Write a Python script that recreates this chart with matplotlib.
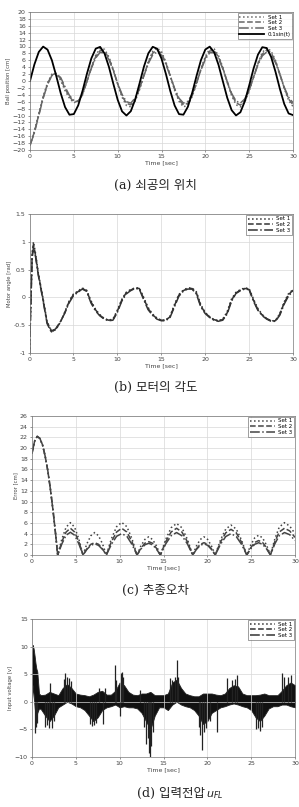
import numpy as np
import matplotlib
matplotlib.use("Agg")
import matplotlib.pyplot as plt

# ---- (a) ball position ----
t_a = np.arange(0, 30.01, 0.5)
ref_a = [0.0, 4.79, 8.41, 9.97, 9.09, 5.98, 1.41, -3.51, -7.57, -9.78, -9.59, -7.06, -2.79,
         2.15, 6.57, 9.38, 9.89, 7.98, 4.12, -0.75, -5.44, -8.80, -10.0, -8.75, -5.37,
         -0.66, 4.20, 8.03, 9.91, 9.35, 6.50, 2.07, -2.88, -7.12, -9.61, -9.76, -7.51,
         -3.43, 1.50, 6.05, 9.13, 9.96, 8.37, 4.71, -0.09, -4.87, -8.46, -9.98, -9.06,
         -5.91, -1.32, 3.60, 7.63, 9.80, 9.56, 7.00, 2.71, -2.24, -6.64, -9.41, -9.88]
set1_a = [-18.5, -14.5, -9.5, -4.5, -0.5, 2.0, 2.2, 0.2, -2.8, -5.0, -6.3, -5.8, -3.5,
          -0.1, 4.1, 7.5, 9.4, 9.2, 7.0, 3.3, -0.9, -4.7, -7.1, -7.5, -5.8,
          -2.5, 1.7, 5.7, 8.6, 9.6, 8.5, 5.5, 1.5, -2.7, -5.9, -7.5, -7.0,
          -4.5, -0.7, 3.5, 7.1, 9.3, 9.3, 7.4, 3.9, -0.4, -4.2, -6.9, -7.5,
          -6.1, -3.0, 1.2, 5.2, 8.3, 9.6, 8.7, 6.0, 2.1, -2.2, -5.6, -7.4]
set2_a = [-18.6, -14.8, -9.8, -4.8, -0.8, 1.8, 2.2, 0.6, -2.2, -4.6, -6.0, -5.9, -3.7,
          -0.1, 3.9, 7.1, 8.8, 8.7, 6.6, 3.2, -0.8, -4.3, -6.5, -6.9, -5.3,
          -2.2, 1.7, 5.4, 8.1, 9.0, 8.0, 5.2, 1.5, -2.4, -5.5, -6.9, -6.5,
          -4.2, -0.6, 3.4, 6.7, 8.7, 8.8, 7.0, 3.7, -0.3, -3.9, -6.3, -7.0,
          -5.7, -2.7, 1.1, 5.0, 7.8, 9.0, 8.2, 5.7, 2.0, -2.0, -5.2, -6.9]
set3_a = [-18.7, -15.0, -10.0, -5.0, -1.0, 1.6, 2.1, 1.0, -1.7, -4.2, -5.6, -5.8, -4.0,
          0.0, 3.7, 6.7, 8.3, 8.1, 6.2, 3.0, -0.7, -3.9, -6.0, -6.4, -4.9,
          -2.0, 1.6, 5.1, 7.6, 8.4, 7.5, 4.9, 1.4, -2.2, -5.0, -6.4, -5.9,
          -3.8, -0.5, 3.2, 6.3, 8.2, 8.2, 6.5, 3.5, -0.2, -3.6, -5.8, -6.4,
          -5.2, -2.5, 1.1, 4.7, 7.3, 8.4, 7.7, 5.3, 1.9, -1.8, -4.7, -6.3]

# ---- (b) motor angle ----
t_b = [0, 0.15, 0.3, 0.45, 0.7, 1.0, 1.5, 2.0, 2.5, 3.0, 3.5, 4.0, 4.5, 5.0, 5.5, 6.0,
       6.5, 7.0, 7.5, 8.0, 8.5, 9.0, 9.5, 10.0, 10.5, 11.0, 11.5, 12.0, 12.5, 13.0, 13.5,
       14.0, 14.5, 15.0, 15.5, 16.0, 16.5, 17.0, 17.5, 18.0, 18.5, 19.0, 19.5, 20.0, 20.5,
       21.0, 21.5, 22.0, 22.5, 23.0, 23.5, 24.0, 24.5, 25.0, 25.5, 26.0, 26.5, 27.0, 27.5,
       28.0, 28.5, 29.0, 29.5, 30.0]
set1_b = [-1.0, -0.05, 0.8, 1.0, 0.78, 0.44, 0.02, -0.43, -0.62, -0.58, -0.45, -0.27,
          -0.07, 0.06, 0.11, 0.17, 0.13, -0.06, -0.21, -0.31, -0.38, -0.41, -0.39, -0.23,
          -0.04, 0.09, 0.14, 0.17, 0.17, 0.0, -0.18, -0.3, -0.37, -0.41, -0.41, -0.34,
          -0.13, 0.05, 0.13, 0.17, 0.17, 0.1, -0.13, -0.27, -0.35, -0.4, -0.42, -0.39,
          -0.26, -0.03, 0.09, 0.14, 0.17, 0.16, -0.03, -0.2, -0.31, -0.38, -0.42, -0.42,
          -0.29, -0.08, 0.07, 0.14]
set2_b = [-1.0, -0.1, 0.75, 0.95, 0.75, 0.42, 0.0, -0.45, -0.6, -0.57, -0.45, -0.28,
          -0.08, 0.05, 0.1, 0.16, 0.12, -0.08, -0.22, -0.32, -0.38, -0.41, -0.4, -0.25,
          -0.05, 0.08, 0.13, 0.17, 0.16, -0.02, -0.2, -0.31, -0.38, -0.41, -0.41, -0.35,
          -0.15, 0.04, 0.12, 0.16, 0.16, 0.08, -0.15, -0.28, -0.35, -0.4, -0.42, -0.4,
          -0.28, -0.05, 0.08, 0.13, 0.16, 0.15, -0.05, -0.22, -0.32, -0.38, -0.42, -0.42,
          -0.3, -0.1, 0.05, 0.13]
set3_b = [-1.0, -0.15, 0.7, 0.9, 0.72, 0.4, -0.02, -0.47, -0.63, -0.56, -0.44, -0.29,
          -0.1, 0.03, 0.09, 0.15, 0.11, -0.1, -0.24, -0.33, -0.39, -0.42, -0.41, -0.27,
          -0.07, 0.06, 0.12, 0.16, 0.15, -0.04, -0.22, -0.32, -0.39, -0.42, -0.42, -0.36,
          -0.17, 0.02, 0.11, 0.15, 0.15, 0.06, -0.17, -0.29, -0.36, -0.41, -0.43, -0.41,
          -0.3, -0.07, 0.07, 0.12, 0.15, 0.14, -0.07, -0.23, -0.33, -0.39, -0.43, -0.43,
          -0.32, -0.12, 0.03, 0.11]

# ---- (c) tracking error ----
t_c = [0, 0.3, 0.6, 0.9, 1.2, 1.5, 1.8, 2.1, 2.4, 2.7,
       2.93, 3.41, 3.89, 4.38, 4.86, 5.34,
       5.82, 6.26, 6.71, 7.15, 7.59, 8.04,
       8.48, 9.06, 9.65, 10.23, 10.82, 11.40,
       11.98, 12.42, 12.87, 13.31, 13.75, 14.20,
       14.64, 15.26, 15.87, 16.49, 17.10, 17.72,
       18.33, 18.76, 19.19, 19.62, 20.04, 20.47,
       20.9, 21.5, 22.1, 22.7, 23.3, 23.9,
       24.5, 24.95, 25.4, 25.85, 26.3, 26.75,
       27.2, 27.7, 28.2, 28.8, 29.4, 30.0]
head_c = [19.0, 21.3, 22.2, 21.8, 20.6, 18.5, 15.8, 12.3, 8.3, 3.8]
set1_c = head_c + [0, 3.0, 5.2, 6.05, 5.2, 3.0,
                   0, 2.1, 3.6, 4.2, 3.6, 2.1,
                   0, 3.05, 5.3, 6.1, 5.3, 3.05,
                   0, 1.7, 2.9, 3.4, 2.9, 1.7,
                   0, 2.95, 5.1, 5.9, 5.1, 2.95,
                   0, 1.7, 2.9, 3.4, 2.9, 1.7,
                   0, 2.8, 4.85, 5.6, 4.85, 2.8,
                   0, 1.85, 3.2, 3.7, 3.2, 1.85,
                   0, 3.0, 5.2, 6.05, 5.4, 4.0]
set2_c = head_c + [0, 2.5, 4.3, 5.0, 4.3, 2.5,
                   0, 1.15, 2.0, 2.3, 2.0, 1.15,
                   0, 2.5, 4.3, 5.0, 4.3, 2.5,
                   0, 1.25, 2.2, 2.5, 2.2, 1.25,
                   0, 2.5, 4.3, 5.0, 4.3, 2.5,
                   0, 1.15, 2.0, 2.3, 2.0, 1.15,
                   0, 2.4, 4.15, 4.8, 4.15, 2.4,
                   0, 1.35, 2.35, 2.7, 2.35, 1.35,
                   0, 2.5, 4.3, 5.0, 4.5, 3.3]
set3_c = head_c + [0, 2.1, 3.7, 4.25, 3.7, 2.1,
                   0, 1.05, 1.8, 2.1, 1.8, 1.05,
                   0, 2.0, 3.5, 4.0, 3.5, 2.0,
                   0, 1.1, 1.9, 2.2, 1.9, 1.1,
                   0, 2.1, 3.6, 4.2, 3.6, 2.1,
                   0, 1.05, 1.8, 2.1, 1.8, 1.05,
                   0, 2.0, 3.45, 4.0, 3.45, 2.0,
                   0, 1.15, 2.0, 2.3, 2.0, 1.15,
                   0, 2.1, 3.6, 4.2, 3.8, 2.7]

# ---- (d) input voltage (dense band + spikes) ----
t_d = [0, 0.1, 0.2, 0.3, 0.4, 0.5, 0.6, 0.8, 1.0, 1.5, 2.0, 2.5, 3.0, 3.5, 4.0, 4.5,
       5.0, 5.5, 6.0, 6.5, 7.0, 7.5, 8.0, 8.5, 9.0, 9.5, 10.0, 10.5, 11.0, 11.5, 12.0,
       12.5, 13.0, 13.5, 14.0, 14.5, 15.0, 15.5, 16.0, 16.5, 17.0, 17.5, 18.0, 18.5,
       19.0, 19.5, 20.0, 20.5, 21.0, 21.5, 22.0, 22.5, 23.0, 23.5, 24.0, 24.5, 25.0,
       25.5, 26.0, 26.5, 27.0, 27.5, 28.0, 28.5, 29.0, 29.5, 30.0]
hi_d = [9.0, 10.3, 9.5, 8.3, 7.0, 6.0, 5.5, 1.5, 1.2, 1.3, 1.8, 1.5, 1.2, 2.5, 3.2, 2.5,
        1.5, 1.3, 1.2, 1.0, 1.3, 1.8, 2.0, 1.3, 1.3, 2.0, 3.5, 3.0, 1.8, 1.3, 1.2,
        1.5, 1.5, 1.8, 1.2, 1.2, 1.2, 1.5, 3.5, 4.0, 2.5, 1.5, 1.2, 1.0,
        1.0, 1.5, 1.5, 1.5, 1.3, 1.2, 1.5, 2.5, 3.0, 2.8, 1.5, 1.2, 1.2,
        1.2, 1.3, 1.5, 1.2, 1.2, 1.2, 2.0, 3.0, 3.5, 3.0]
lo_d = [0.0, 3.0, 1.0, -1.0, -2.5, -3.0, -2.0, -1.2, -1.3, -2.5, -3.5, -2.5, -1.0, -0.5,
        0.0, -0.3, -0.8, -1.0, -1.5, -2.5, -3.5, -2.8, -1.5, -1.0, -0.8, -0.5, -1.0,
        -0.8, -1.0, -1.0, -1.2, -2.0, -3.5, -5.0, -2.5, -1.0, -1.0, -1.5, -0.5, 0.0,
        -0.5, -0.8, -1.0, -1.5, -2.5, -4.0, -3.5, -2.0, -1.5, -1.0, -0.8, -0.5, -0.3,
        -0.5, -0.8, -1.0, -1.5, -2.8, -3.5, -2.5, -1.2, -0.8, -0.8, -0.5, -0.5, -0.8, -1.0]
spike_t = [0.3, 0.45, 0.55, 1.5, 1.7, 1.9, 2.1, 2.3, 2.5, 3.6, 3.8, 4.0, 4.2, 4.4,
           6.6, 6.9, 7.1, 7.3, 7.6, 8.1, 8.35, 9.5, 9.6, 10.0, 10.1, 10.25, 10.4,
           12.3, 12.8, 13.0, 13.2, 13.4, 13.5, 13.6, 13.8, 15.75, 16.0, 16.3, 16.5,
           16.6, 19.0, 19.2, 19.4, 19.6, 19.9, 20.3, 21.1, 22.2, 22.8, 23.1, 23.35,
           25.6, 25.8, 26.0, 26.2, 28.5, 28.8, 29.2, 29.5]
spike_v = [-5.7, -4.5, -3.8, -4.6, -4.2, -4.7, 3.4, -4.8, -3.5, 4.2, 5.2, 4.5, 4.3, 3.8,
           -4.0, -4.3, -4.2, -3.8, 2.5, -4.0, 2.5, 6.6, 4.0, -2.5, 5.3, 5.4, 4.5,
           2.1, -4.5, -7.6, -6.5, -9.2, -10.0, -8.0, -5.5, 4.3, 4.0, 4.5, 7.6,
           4.5, -4.5, -6.0, -8.7, -5.5, -4.8, -3.5, -5.4, 4.3, 4.0, 4.2, 4.8,
           -5.0, -4.8, -5.2, -4.5, 5.2, 4.5, 4.5, 4.8]

set_labels = ["Set 1", "Set 2", "Set 3"]
set_styles = [":", "--", "-."]

W, H = 299, 807
fig = plt.figure(figsize=(W / 100, H / 100), dpi=100)


def add_axes(left, top, right, bottom):
    return fig.add_axes([left / W, 1 - bottom / H, (right - left) / W, (bottom - top) / H])


def style(ax, ylabel, yticks):
    ax.set_xlim(0, 30)
    ax.set_xticks(range(0, 31, 5))
    ax.set_ylim(yticks[0], yticks[-1])
    ax.set_yticks(yticks)
    ax.grid(True, color="#d8d8d8", linewidth=0.5, linestyle="-")
    ax.tick_params(labelsize=4.5, colors="#444444", length=1.5, width=0.4, pad=1.5)
    for s in ax.spines.values():
        s.set_color("#777777")
        s.set_linewidth(0.5)
    ax.set_xlabel("Time [sec]", fontsize=4.5, color="#444444", labelpad=1)
    ax.set_ylabel(ylabel, fontsize=3.8, color="#444444", labelpad=1)


def legend(ax):
    leg = ax.legend(loc="upper right", fontsize=4, frameon=True, fancybox=False,
                    handlelength=4.5, borderpad=0.3, labelspacing=0.15,
                    handletextpad=0.6, borderaxespad=0.15)
    leg.get_frame().set_edgecolor("#555555")
    leg.get_frame().set_linewidth(0.5)


caption_kw = dict(fontsize=9, ha="center", va="center", color="#222222",
                  family=["DejaVu Serif", "Noto Sans CJK KR"])

# (a)
ax = add_axes(30, 12, 293, 150)
for vals, ls, lab in zip([set1_a, set2_a, set3_a], set_styles, set_labels):
    ax.plot(t_a, vals, ls, color="#666666", lw=1.1, label=lab)
ax.plot(t_a, ref_a, "-", color="black", lw=1.3, label="0.1sin(t)")
style(ax, "Ball position [cm]", list(range(-20, 21, 2)))
legend(ax)
fig.text(0.52, 1 - 185 / H, "(a) 쇠공의 위치", **caption_kw)

# (b)
ax = add_axes(29.5, 214, 293, 353)
for vals, ls, lab in zip([set1_b, set2_b, set3_b], set_styles, set_labels):
    ax.plot(t_b, vals, ls, color="#333333", lw=1.1, label=lab)
style(ax, "Motor angle [rad]", [-1, -0.5, 0, 0.5, 1, 1.5])
ax.set_yticklabels(["-1", "-0.5", "0", "0.5", "1", "1.5"])
legend(ax)
fig.text(0.52, 1 - 387 / H, "(b) 모터의 각도", **caption_kw)

# (c)
ax = add_axes(32, 416, 295, 555)
for vals, ls, lab in zip([set1_c, set2_c, set3_c], set_styles, set_labels):
    ax.plot(t_c, vals, ls, color="#444444", lw=1.1, label=lab)
style(ax, "Error [cm]", list(range(0, 27, 2)))
legend(ax)
fig.text(0.52, 1 - 590 / H, "(c) 추종오차", **caption_kw)

# (d)
ax = add_axes(32, 619, 295, 757)
ax.fill_between(t_d, lo_d, hi_d, color="#111111", lw=0.6, edgecolor="#222222")
ax.vlines(spike_t, 0, spike_v, color="#222222", lw=0.9)
for ls, lab in zip(set_styles, set_labels):
    ax.plot([], [], ls, color="#333333", lw=1.1, label=lab)
style(ax, "Input voltage [v]", [-10, -5, 0, 5, 10, 15])
legend(ax)
fig.text(0.685, 1 - 793 / H, "(d) 입력전압", fontsize=9, ha="right", va="center",
         color="#222222", family=["DejaVu Serif", "Noto Sans CJK KR"])
fig.text(0.69, 1 - 795 / H, "$u_{FL}$", fontsize=8, ha="left", va="center",
         color="#222222", family="DejaVu Serif")

fig.savefig("out.png", dpi=100)
